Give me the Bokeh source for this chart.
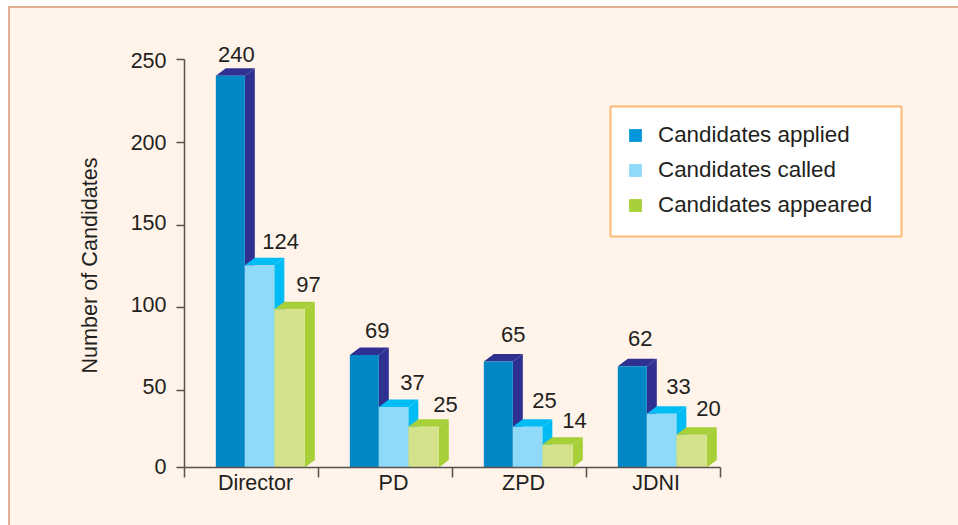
from bokeh.embed import file_html
from bokeh.resources import INLINE
from bokeh.plotting import figure
from bokeh.core.properties import value
from bokeh.models import (BoxAnnotation, ColumnDataSource, FixedTicker, Legend, LegendItem,
                          Range1d, Title)

categories = ["Director", "PD", "ZPD", "JDNI"]
series_names = ["Candidates applied", "Candidates called", "Candidates appeared"]
applied = [240, 69, 65, 62]
called = [124, 37, 25, 33]
appeared = [97, 25, 14, 20]
y_tick_labels = ["0", "50", "100", "150", "200", "250"]
y_title = "Number of Candidates"

# styling / layout only
FONT = "Liberation Sans"
INK = "#231f20"
AXIS = "#5a524e"
FRONT = ["#0087c5", "#8fd9f9", "#d3e28b"]
SHADE = ["#2e3192", "#00bcf5", "#a7cf38"]
LEGEND_COL = ["#0096db", "#8fd9f9", "#a7cf38"]
PX_X, PX_Y = 134.0, 1.632           # pixels per data unit
BASE_PX = 467
TICK_PX = [467, 390, 307, 224.7, 141.7, 59]     # the source's tick marks are not quite even
LABEL_PX = [466, 386, 304, 222, 142, 60]        # and its labels sit a little off them
CAT_LABEL_AT = [0.53, 1.56, 2.53, 3.52]
BAR_START = [0.2338, 0.4502, 0.6704]
BAR_W = [0.2164, 0.2202, 0.2276]
DEPTH_X, DEPTH_Y = 10 / PX_X, 7.5 / PX_Y
LABEL_DX = [[1, 16, 14], [8, 14, 17], [10, 12, 12], [3, 12, 12]]
LABEL_DY = [[21, 24, 25], [24, 25, 22], [27, 26, 24], [28, 27, 26]]


def px_to_y(px):
    return round((BASE_PX - px) / PX_Y, 3)


p = figure(width=958, height=525, output_backend="svg", toolbar_location=None,
           x_range=Range1d(0, 774 / PX_X), y_range=Range1d(0, 467 / PX_Y),
           min_border_left=184, min_border_right=0, min_border_top=0, min_border_bottom=58)
p.background_fill_color = None
p.border_fill_color = None
p.outline_line_color = None
p.grid.visible = False

xa, ya = p.xaxis[0], p.yaxis[0]
xa.bounds = (0, len(categories))
xa.ticker = FixedTicker(ticks=CAT_LABEL_AT, minor_ticks=list(range(len(categories) + 1)))
xa.major_label_overrides = dict(zip(CAT_LABEL_AT, categories))
xa.major_tick_out = 0
xa.major_tick_in = 0
xa.minor_tick_out = 10
xa.minor_tick_in = 0
xa.major_label_standoff = -7
label_pos = [px_to_y(v) for v in LABEL_PX]
ya.bounds = (0, 250)
ya.ticker = FixedTicker(ticks=label_pos, minor_ticks=[px_to_y(v) for v in TICK_PX])
ya.major_label_overrides = dict(zip(label_pos, y_tick_labels))
ya.minor_tick_out = 8
ya.minor_tick_in = 0
ya.major_tick_out = 0
ya.major_tick_in = 0
ya.major_label_standoff = 10
for a in (xa, ya):
    a.axis_line_color = AXIS
    a.axis_line_width = 1.5
    a.major_tick_line_color = AXIS
    a.major_tick_line_width = 1.5
    a.minor_tick_line_color = AXIS
    a.minor_tick_line_width = 1.5
    a.major_label_text_font = FONT
    a.major_label_text_font_size = "21.5px"
    a.major_label_text_color = INK
ya.major_label_orientation = "horizontal"

p.add_layout(Title(text=y_title, align="left", offset=94, standoff=52,
                   text_font=FONT, text_font_size="21.6px", text_font_style="normal",
                   text_color=INK), "left")

legend_refs = []
for s, vals in enumerate([applied, called, appeared]):
    sx0 = [i + BAR_START[s] for i in range(len(vals))]
    sx1 = [x + BAR_W[s] for x in sx0]
    side_x = [[b, b + DEPTH_X, b + DEPTH_X, b] for b in sx1]
    side_y = [[0, DEPTH_Y, v + DEPTH_Y, v] for v in vals]
    top_x = [[a, a + DEPTH_X, b + DEPTH_X, b] for a, b in zip(sx0, sx1)]
    top_y = [[v, v + DEPTH_Y, v + DEPTH_Y, v] for v in vals]
    p.patches(side_x, side_y, fill_color=SHADE[s], line_color=None)
    p.patches(top_x, top_y, fill_color=SHADE[s], line_color=None)
    # zero-width carrier that only supplies the legend swatch colour
    legend_refs.append(p.quad(left=sx0, right=sx0, bottom=0, top=vals,
                              fill_color=LEGEND_COL[s], line_color=None))
    p.quad(left=sx0, right=sx1, bottom=0, top=vals, fill_color=FRONT[s], line_color=None)

for s, vals in enumerate([applied, called, appeared]):
    src = ColumnDataSource(dict(
        x=[i + BAR_START[s] + (BAR_W[s] + DEPTH_X) / 2 for i in range(len(vals))],
        y=vals,
        t=[str(v) for v in vals],
        dx=[LABEL_DX[i][s] for i in range(len(vals))],
        dy=[-LABEL_DY[i][s] for i in range(len(vals))],
    ))
    p.text("x", "y", text="t", x_offset="dx", y_offset="dy", source=src,
           text_font=value(FONT), text_font_size="22px", text_color=INK,
           text_align="center", text_baseline="middle")

# legend box: page x 610-901, y 106-236 (screen units here are frame-relative, y up)
p.add_layout(BoxAnnotation(left=426, right=717, top=361, bottom=231,
                           left_units="screen", right_units="screen",
                           top_units="screen", bottom_units="screen",
                           fill_color="#ffffff", fill_alpha=1,
                           line_color="#fdb974", line_alpha=1, line_width=2))
items = [LegendItem(label=value(name), renderers=[r]) for name, r in zip(series_names, legend_refs)]
legend = Legend(items=items, location=(443, 249), padding=15, margin=0, spacing=9,
                glyph_width=16, glyph_height=16, label_standoff=15, label_height=26,
                label_text_font=FONT, label_text_font_size="22.4px", label_text_color=INK,
                label_text_baseline="middle",
                background_fill_alpha=0, border_line_color=None)
p.add_layout(legend)

PAGE = ("<style>html{height:100%;background:"
        "linear-gradient(#fff,#fff) 0 0/100% 6px no-repeat,"
        "linear-gradient(#fff,#fff) 0 0/8px 100% no-repeat,"
        "linear-gradient(#e2ae90,#e2ae90) 0 6px/100% 2px no-repeat,"
        "linear-gradient(#e2ae90,#e2ae90) 8px 0/2px 100% no-repeat,"
        "#fff3ea}body{background:transparent}</style></head>")
open("out.html", "w").write(file_html(p, INLINE).replace("</head>", PAGE, 1))
